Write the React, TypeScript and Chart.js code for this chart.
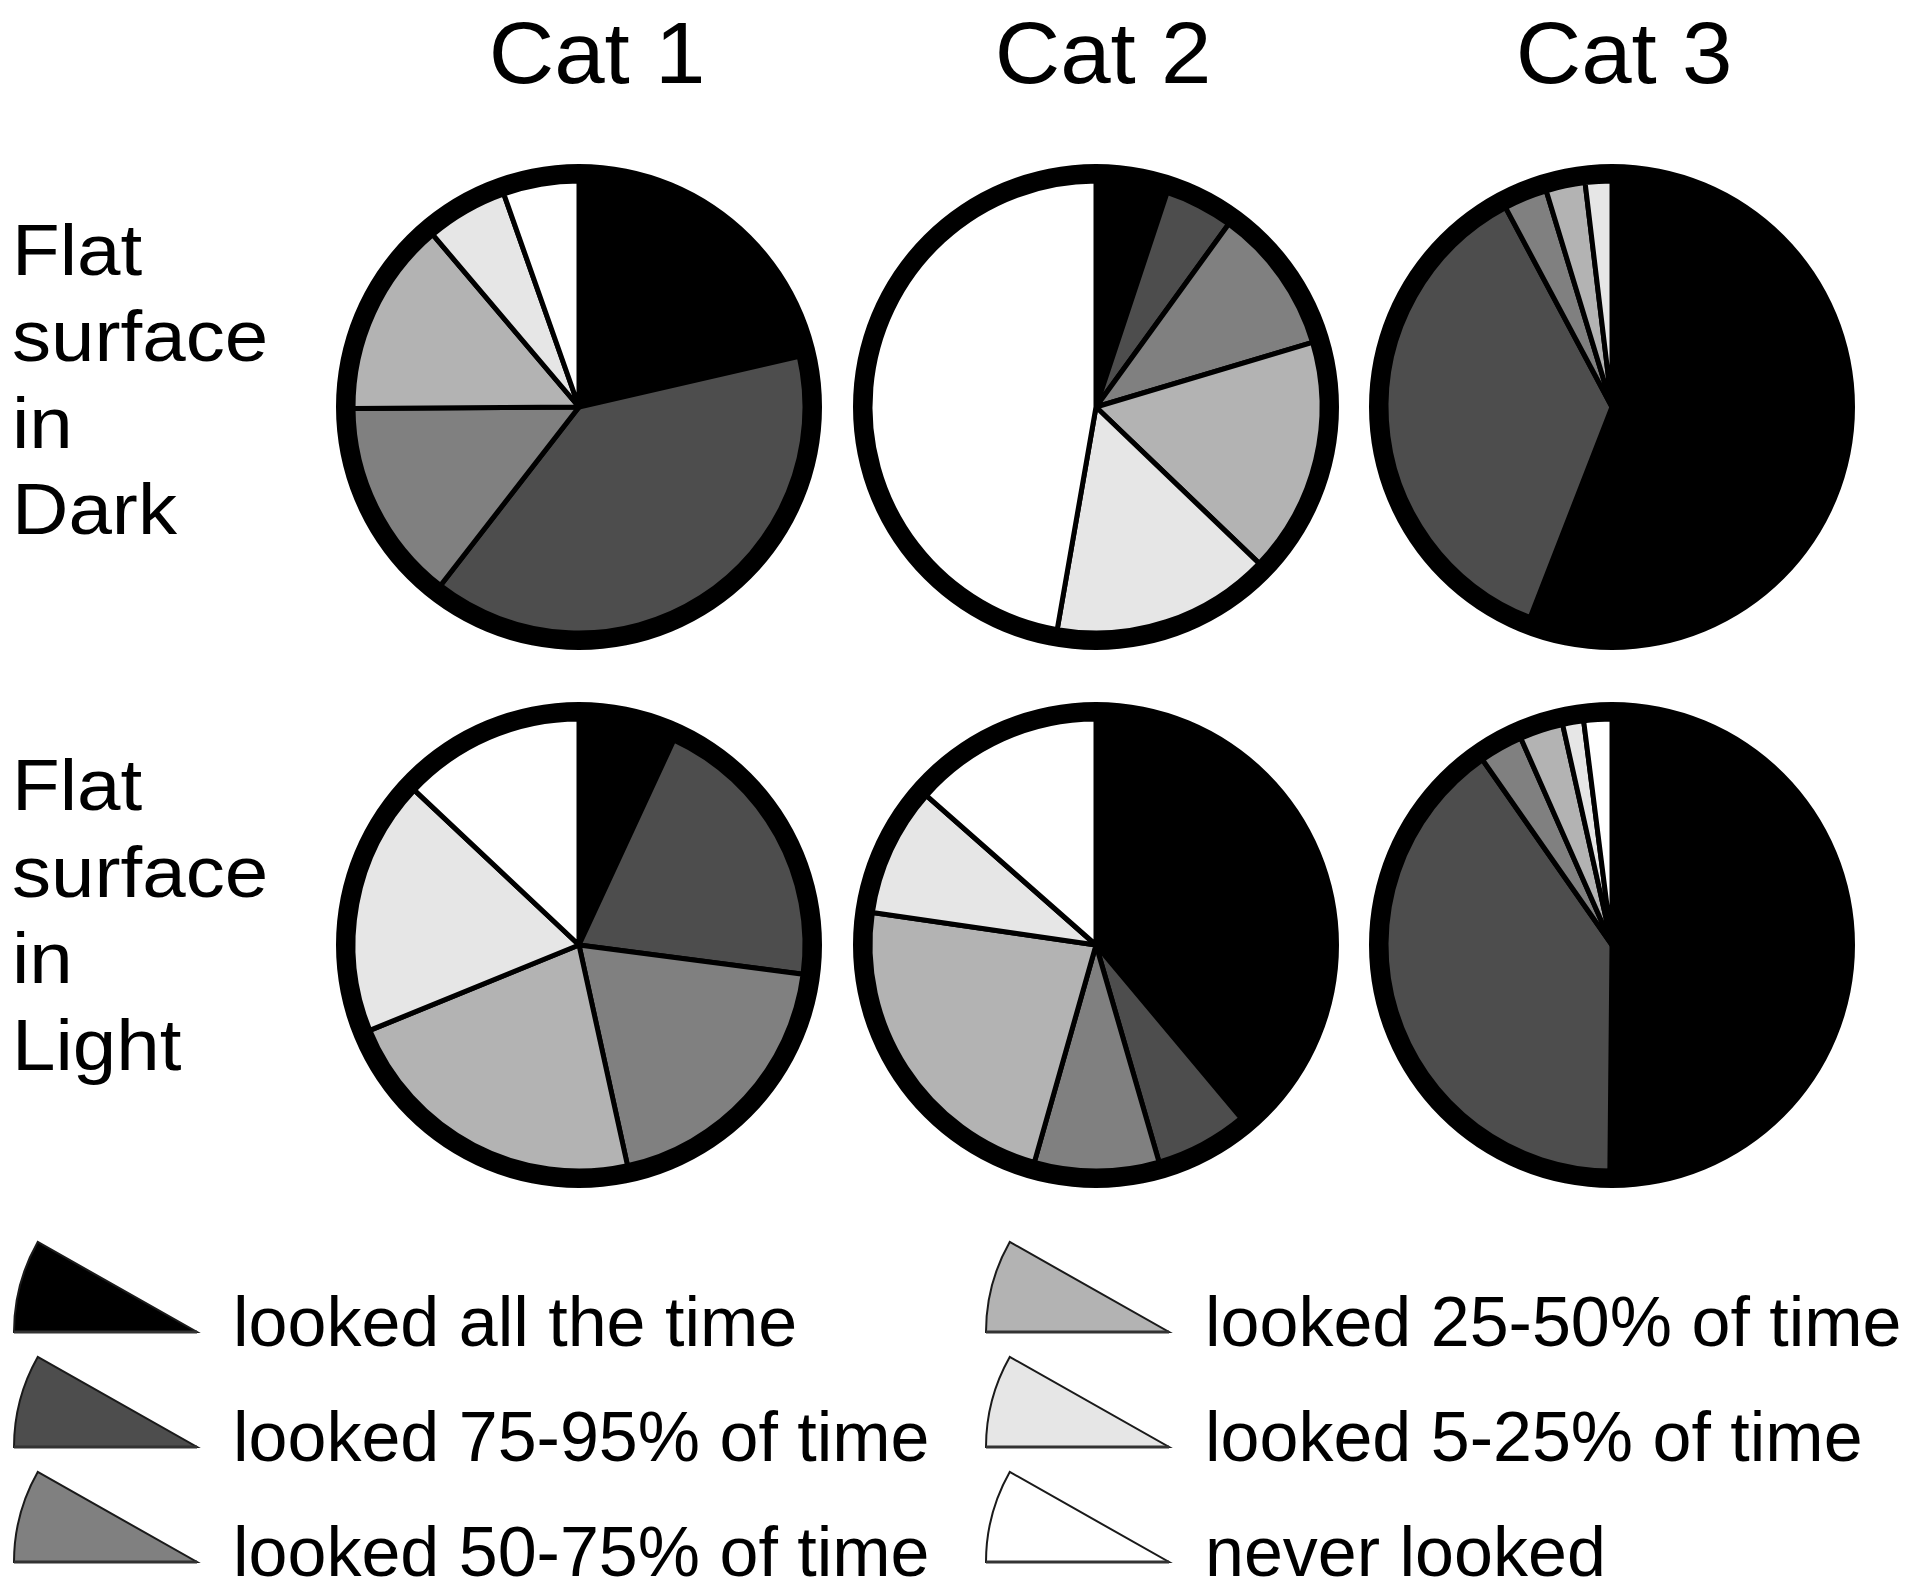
import React, { useEffect, useRef } from "react";
import { Chart, registerables } from "chart.js";

Chart.register(...registerables);

// ---- data (percent of trials, clockwise from 12 o'clock) ----
const categories = ["Cat 1", "Cat 2", "Cat 3"];
const conditions = [
  ["Flat", "surface", "in", "Dark"],
  ["Flat", "surface", "in", "Light"],
];
const legendLabels = [
  "looked all the time",
  "looked 75-95% of time",
  "looked 50-75% of time",
  "looked 25-50% of time",
  "looked 5-25% of time",
  "never looked",
];
const sliceColors = ["#000000", "#4d4d4d", "#808080", "#b3b3b3", "#e6e6e6", "#ffffff"];

const darkCat1 = [21.4, 39.1, 14.4, 13.9, 5.8, 5.4];
const darkCat2 = [5.1, 4.9, 10.4, 16.8, 15.6, 47.3];
const darkCat3 = [55.9, 36.3, 3.1, 2.8, 1.9, 0];
const lightCat1 = [6.9, 20.2, 19.5, 22.3, 18.2, 13.0];
const lightCat2 = [38.9, 6.6, 8.9, 22.9, 9.2, 13.5];
const lightCat3 = [50.1, 40.1, 3.1, 3.1, 1.5, 2.0];

const pieRows = [
  [darkCat1, darkCat2, darkCat3],
  [lightCat1, lightCat2, lightCat3],
];

// ---- layout ----
const FONT = '"Liberation Sans", Arial, Helvetica, sans-serif';
const colCenters = [579, 1096, 1612];
const titleCenters = [597, 1103, 1624];
const rowCenters = [407, 945];
const CANVAS = 500;
const OUTER_R = 243;
const RING = 17;

function Pie({ values, cx, cy }: { values: number[]; cx: number; cy: number }) {
  const ref = useRef<HTMLCanvasElement | null>(null);
  useEffect(() => {
    if (!ref.current) return;
    const inner = OUTER_R - RING;
    const chart = new Chart(ref.current, {
      type: "pie",
      data: {
        labels: legendLabels,
        datasets: [
          {
            data: [1],
            backgroundColor: ["#000000"],
            borderWidth: 0,
            weight: RING,
          } as any,
          {
            data: values,
            backgroundColor: sliceColors,
            borderColor: "#000000",
            borderWidth: 5,
            borderJoinStyle: "round",
            weight: inner,
          } as any,
        ],
      },
      options: {
        responsive: false,
        maintainAspectRatio: false,
        animation: false,
        events: [],
        radius: OUTER_R,
        rotation: 0,
        layout: { padding: 0 },
        plugins: { legend: { display: false }, tooltip: { enabled: false } },
        elements: { arc: { offset: 0, hoverOffset: 0 } as any },
      } as any,
    });
    return () => chart.destroy();
  }, [values]);
  return (
    <canvas
      ref={ref}
      width={CANVAS}
      height={CANVAS}
      style={{
        position: "absolute",
        left: cx - CANVAS / 2,
        top: cy - CANVAS / 2,
        width: CANVAS,
        height: CANVAS,
      }}
    />
  );
}

function LegendIcon({ x, y, color }: { x: number; y: number; color: string }) {
  // wedge with apex at right (x,y), radius r, ~30 degrees
  const r = 183;
  const a = (29.5 * Math.PI) / 180;
  const lx = x - r;
  const tx = x - r * Math.cos(a);
  const ty = y - r * Math.sin(a);
  return (
    <g>
      <path
        d={`M ${x} ${y} L ${lx} ${y} A ${r} ${r} 0 0 1 ${tx} ${ty} Z`}
        fill={color}
        stroke="#1a1a1a"
        strokeWidth={2}
        strokeLinejoin="miter"
      />
      <line x1={lx} y1={y} x2={x} y2={y} stroke="#333" strokeWidth={3} />
    </g>
  );
}

export default function App() {
  useEffect(() => {
    document.body.style.margin = "0";
    document.body.style.background = "#ffffff";
  }, []);

  const legendRowsBaseline = [1346, 1461, 1576];
  const legendColTextX = [233, 1205];
  const legendColIconX = [197, 1169];

  const titleFs = 88;
  const rowFs = 72;
  const rowLH = 86.5;
  const rowBaseOff = (rowLH - 1.117 * rowFs) / 2 + 0.905 * rowFs;

  return (
    <div
      style={{
        position: "absolute",
        left: 0,
        top: 0,
        width: 1920,
        height: 1591,
        background: "#ffffff",
        overflow: "hidden",
        fontFamily: FONT,
        color: "#000",
      }}
    >
      {categories.map((c, i) => (
        <div
          key={c}
          style={{
            position: "absolute",
            left: titleCenters[i] - 200,
            width: 400,
            top: 83.5 - 0.8465 * titleFs,
            fontSize: titleFs,
            lineHeight: `${titleFs}px`,
            textAlign: "center",
            whiteSpace: "nowrap",
            transform: "scaleX(1.03)",
            transformOrigin: "50% 50%",
          }}
        >
          {c}
        </div>
      ))}

      {conditions.map((lines, r) => (
        <div
          key={r}
          style={{
            position: "absolute",
            left: 12,
            top: (r === 0 ? 275 : 810.5) - rowBaseOff,
            fontSize: rowFs,
            lineHeight: `${rowLH}px`,
            whiteSpace: "nowrap",
            transform: "scaleX(1.085)",
            transformOrigin: "0 0",
          }}
        >
          {lines.map((l, k) => (
            <div key={k}>{l}</div>
          ))}
        </div>
      ))}

      {pieRows.map((row, r) =>
        row.map((vals, c) => (
          <Pie key={`${r}-${c}`} values={vals} cx={colCenters[c]} cy={rowCenters[r]} />
        ))
      )}

      <svg
        width={1920}
        height={1591}
        style={{ position: "absolute", left: 0, top: 0, pointerEvents: "none" }}
      >
        {legendLabels.map((_, i) => {
          const col = Math.floor(i / 3);
          const row = i % 3;
          return (
            <LegendIcon
              key={i}
              x={legendColIconX[col]}
              y={legendRowsBaseline[row] - 14}
              color={sliceColors[i]}
            />
          );
        })}
      </svg>

      {legendLabels.map((lab, i) => {
        const col = Math.floor(i / 3);
        const row = i % 3;
        return (
          <div
            key={lab}
            style={{
              position: "absolute",
              left: legendColTextX[col],
              top: legendRowsBaseline[row] - 0.8465 * 70,
              fontSize: 70,
              lineHeight: "70px",
              whiteSpace: "nowrap",
            }}
          >
            {lab}
          </div>
        );
      })}
    </div>
  );
}
